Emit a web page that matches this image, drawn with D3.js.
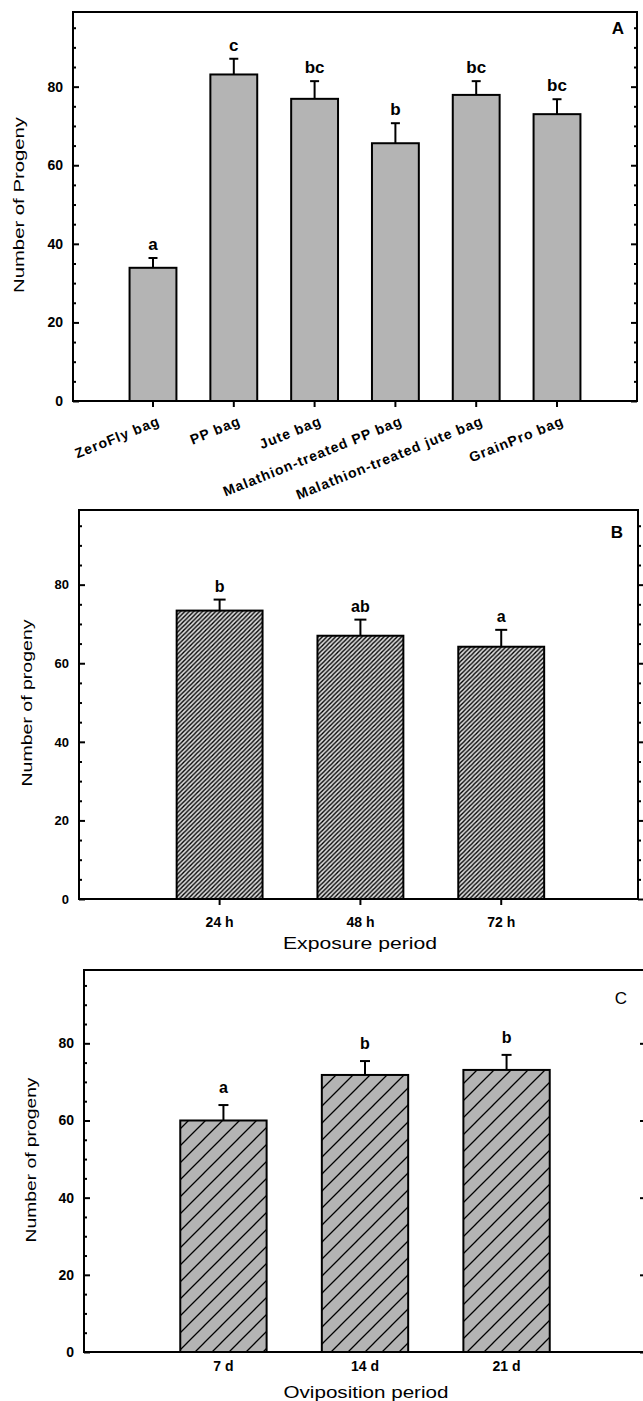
<!DOCTYPE html>
<html>
<head>
<meta charset="utf-8">
<script src="https://cdn.jsdelivr.net/npm/d3@7"></script>
<style>
  html, body { margin: 0; padding: 0; background: #fff; }
  svg { display: block; }
  text { font-family: "Liberation Sans", Arial, sans-serif; fill: #000; }
</style>
</head>
<body>
<svg id="chart" width="643" height="1401"></svg>
<script>
// ---------------- Data ----------------
const catsA = ["ZeroFly bag", "PP bag", "Jute bag", "Malathion-treated PP bag", "Malathion-treated jute bag", "GrainPro bag"];
const meansA = [33.9, 83.1, 76.9, 65.6, 77.9, 73.0];
const errA = [2.5, 4.0, 4.5, 5.1, 3.5, 3.8];
const lettersA = ["a", "c", "bc", "b", "bc", "bc"];

const catsB = ["24 h", "48 h", "72 h"];
const meansB = [73.4, 67.0, 64.2];
const errB = [2.8, 4.1, 4.3];
const lettersB = ["b", "ab", "a"];

const catsC = ["7 d", "14 d", "21 d"];
const meansC = [60.0, 71.8, 73.1];
const errC = [4.0, 3.6, 3.9];
const lettersC = ["a", "b", "b"];

const yMajorTicks = [0, 20, 40, 60, 80];
const yMinorTicks = [5, 10, 15, 25, 30, 35, 45, 50, 55, 65, 70, 75, 85, 90, 95];
const yMax = 99;

// ---------------- Drawing ----------------
const svg = d3.select("#chart");
const defs = svg.append("defs");

// "/" hatch pattern built from an explicit tile
function hatch(id, s, bg, sw) {
  const p = defs.append("pattern").attr("id", id)
    .attr("patternUnits", "userSpaceOnUse").attr("width", s).attr("height", s);
  p.append("rect").attr("width", s).attr("height", s).attr("fill", bg);
  p.append("path")
    .attr("d", `M0,${s} L${s},0 M${-s / 2},${s / 2} L${s / 2},${-s / 2} M${s / 2},${1.5 * s} L${1.5 * s},${s / 2}`)
    .attr("stroke", "#000").attr("stroke-width", sw).attr("fill", "none");
}
hatch("hatchB", 4.4, "#dadada", 1.4);
hatch("hatchC", 17, "#b4b4b4", 1.3);

function drawPanel(cfg) {
  const g = svg.append("g");
  const x = d3.scaleBand().domain(cfg.cats).range([cfg.left, cfg.right])
    .paddingInner(cfg.pi).paddingOuter(cfg.po).align(cfg.align);
  const y = d3.scaleLinear().domain([0, yMax]).range([cfg.bottom, cfg.top]);

  // bars
  g.selectAll("rect.bar").data(cfg.means).join("rect")
    .attr("class", "bar")
    .attr("x", (d, i) => x(cfg.cats[i]))
    .attr("width", x.bandwidth())
    .attr("y", d => y(d))
    .attr("height", d => y(0) - y(d))
    .attr("fill", cfg.fill)
    .attr("stroke", "#000").attr("stroke-width", 2);

  // error bars (upper only) and letters
  cfg.means.forEach((m, i) => {
    const cx = x(cfg.cats[i]) + x.bandwidth() / 2;
    g.append("line").attr("x1", cx).attr("x2", cx)
      .attr("y1", y(m)).attr("y2", y(m + cfg.errs[i]))
      .attr("stroke", "#000").attr("stroke-width", 2);
    g.append("line").attr("x1", cx - cfg.cap / 2).attr("x2", cx + cfg.cap / 2)
      .attr("y1", y(m + cfg.errs[i])).attr("y2", y(m + cfg.errs[i]))
      .attr("stroke", "#000").attr("stroke-width", 2);
    g.append("text").attr("x", cx).attr("y", y(m + cfg.errs[i]) - cfg.letterGap)
      .attr("text-anchor", "middle")
      .style("font-size", cfg.letterSize + "px").style("font-weight", "bold")
      .text(cfg.letters[i]);
  });

  // frame lines
  const fr = g.append("g").attr("stroke", "#000").attr("stroke-width", 2).attr("fill", "none");
  fr.append("line").attr("x1", cfg.left - 1).attr("x2", cfg.topRight).attr("y1", y(yMax)).attr("y2", y(yMax));
  if (cfg.rightFrame) {
    fr.append("line").attr("x1", cfg.right).attr("x2", cfg.right).attr("y1", y(yMax)).attr("y2", y(0));
  }

  // left axis
  const leftMinor = g.append("g").attr("transform", `translate(${cfg.left},0)`)
    .call(d3.axisLeft(y).tickValues(yMinorTicks).tickSize(-3).tickFormat(""));
  const leftMajor = g.append("g").attr("transform", `translate(${cfg.left},0)`)
    .call(d3.axisLeft(y).tickValues(yMajorTicks).tickSize(-6).tickPadding(cfg.yPad).tickFormat(d3.format("d")));
  [leftMinor, leftMajor].forEach(a => {
    a.select(".domain").attr("stroke-width", 2).attr("d", `M0,${y(0)}V${y(yMax)}`);
    a.selectAll(".tick line").attr("stroke-width", 2);
  });
  leftMajor.selectAll(".tick text").style("font-size", cfg.yTickSize + "px")
    .style("font-weight", "bold").style("font-family", "'Liberation Sans', Arial, sans-serif");

  // right axis ticks
  const rDir = cfg.rightOut ? 1 : -1;
  const rMinor = g.append("g").attr("transform", `translate(${cfg.rightAxisX},0)`)
    .call(d3.axisRight(y).tickValues(yMinorTicks).tickSize(3 * rDir).tickFormat(""));
  const rMajor = g.append("g").attr("transform", `translate(${cfg.rightAxisX},0)`)
    .call(d3.axisRight(y).tickValues(yMajorTicks).tickSize(6 * rDir).tickFormat(""));
  [rMinor, rMajor].forEach(a => {
    a.select(".domain").remove();
    a.selectAll(".tick line").attr("stroke-width", 2);
  });

  // bottom axis
  const bx = g.append("g").attr("transform", `translate(0,${y(0)})`)
    .call(d3.axisBottom(x).tickSize(cfg.xTickLen).tickPadding(cfg.xPad));
  bx.select(".domain").attr("stroke-width", 2).attr("d", `M${cfg.left - 1},0H${cfg.bottomRight}`);
  bx.selectAll(".tick line").attr("stroke-width", 2);
  bx.selectAll(".tick text").style("font-size", cfg.xTickSize + "px")
    .style("font-weight", "bold").style("font-family", "'Liberation Sans', Arial, sans-serif");
  if (cfg.rotate) {
    bx.selectAll(".tick text")
      .attr("text-anchor", "end")
      .attr("transform", `translate(4,14) rotate(${cfg.rotate})`)
      .attr("x", 0).attr("y", 0).attr("dy", "0.75em")
      .style("letter-spacing", cfg.xLetterSpacing + "px");
  }

  // y title
  g.append("text")
    .attr("transform", `translate(${cfg.yTitleX},${cfg.yTitleY}) rotate(-90)`)
    .attr("text-anchor", "middle").attr("dy", "0.35em")
    .attr("textLength", cfg.yTitleLen).attr("lengthAdjust", "spacingAndGlyphs")
    .style("font-size", "15px")
    .text(cfg.yTitle);

  // x title
  if (cfg.xTitle) {
    g.append("text").attr("x", cfg.xTitleX).attr("y", cfg.xTitleY)
      .attr("text-anchor", "middle").attr("dy", "0.35em")
      .attr("textLength", cfg.xTitleLen).attr("lengthAdjust", "spacingAndGlyphs")
      .style("font-size", "17px")
      .text(cfg.xTitle);
  }

  // panel letter
  g.append("text").attr("x", cfg.tagX).attr("y", cfg.tagY)
    .attr("text-anchor", "middle").attr("dy", "0.35em")
    .style("font-size", "17px").style("font-weight", cfg.tagBold ? "bold" : "normal")
    .text(cfg.tag);
}

drawPanel({
  cats: catsA, means: meansA, errs: errA, letters: lettersA,
  left: 73, right: 637, top: 12, bottom: 401, topRight: 638, bottomRight: 638,
  rightFrame: true, rightAxisX: 637, rightOut: false,
  pi: 0.42, po: 0.7, align: 0.5, fill: "#b4b4b4", cap: 9, letterGap: 8, letterSize: 17,
  yPad: 10, yTickSize: 14, xTickLen: 6, xPad: 4, xTickSize: 14, rotate: -22, xLetterSpacing: 1.0,
  yTitle: "Number of Progeny", yTitleX: 19, yTitleY: 205, yTitleLen: 176,
  tag: "A", tagX: 618, tagY: 28, tagBold: true
});

drawPanel({
  cats: catsB, means: meansB, errs: errB, letters: lettersB,
  left: 79, right: 638, top: 510, bottom: 899, topRight: 639, bottomRight: 639,
  rightFrame: true, rightAxisX: 638, rightOut: true,
  pi: 0.39, po: 0.68, align: 0.51, fill: "url(#hatchB)", cap: 12, letterGap: 8, letterSize: 16,
  yPad: 10, yTickSize: 13, xTickLen: 6, xPad: 12, xTickSize: 14, rotate: 0,
  yTitle: "Number of progeny", yTitleX: 27, yTitleY: 703, yTitleLen: 167,
  xTitle: "Exposure period", xTitleX: 360, xTitleY: 943, xTitleLen: 154,
  tag: "B", tagX: 617, tagY: 532, tagBold: true
});

drawPanel({
  cats: catsC, means: meansC, errs: errC, letters: lettersC,
  left: 84, right: 646, top: 970, bottom: 1352, topRight: 643, bottomRight: 643,
  rightFrame: false, rightAxisX: 646, rightOut: false,
  pi: 0.39, po: 0.68, align: 0.5, fill: "url(#hatchC)", cap: 10, letterGap: 12, letterSize: 16,
  yPad: 10, yTickSize: 14, xTickLen: 0, xPad: 9, xTickSize: 14, rotate: 0,
  yTitle: "Number of progeny", yTitleX: 31, yTitleY: 1160, yTitleLen: 165,
  xTitle: "Oviposition period", xTitleX: 366, xTitleY: 1392, xTitleLen: 165,
  tag: "C", tagX: 621, tagY: 998, tagBold: false
});
</script>
</body>
</html>
